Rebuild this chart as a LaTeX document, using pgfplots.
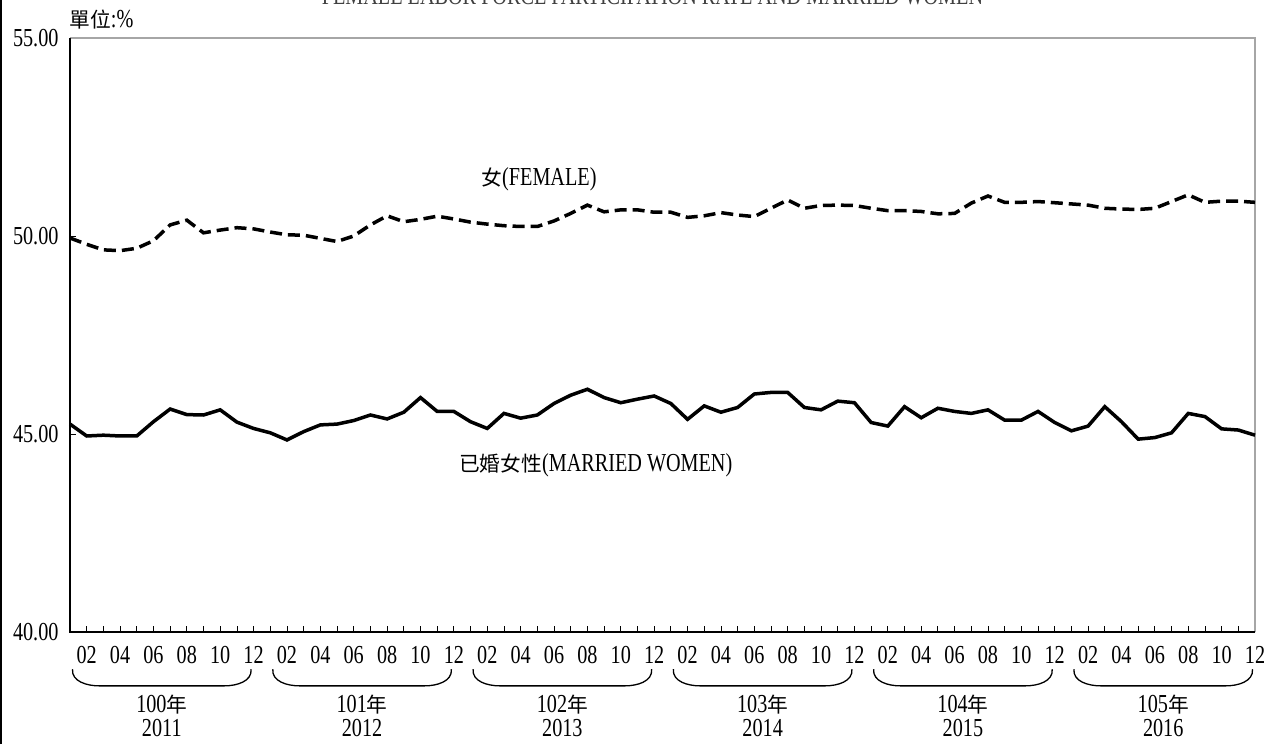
\documentclass[border=0pt]{standalone}
\usepackage{pgfplots}
\pgfplotsset{compat=1.18}
\usepackage{fontspec}
\setmainfont[FakeStretch=0.78]{Liberation Serif}
\newfontfamily\cjk[Scale=0.8]{Noto Sans CJK TC}
\newcommand\fs{\fontsize{26}{30}\selectfont}

\pgfplotstableread{
m female married
0 49.95 45.25
1 49.79 44.95
2 49.65 44.97
3 49.63 44.95
4 49.69 44.95
5 49.88 45.31
6 50.28 45.63
7 50.40 45.49
8 50.08 45.48
9 50.15 45.61
10 50.21 45.30
11 50.18 45.14
12 50.10 45.03
13 50.03 44.85
14 50.02 45.06
15 49.94 45.23
16 49.86 45.25
17 50.00 45.34
18 50.28 45.48
19 50.51 45.38
20 50.36 45.55
21 50.42 45.92
22 50.50 45.57
23 50.43 45.57
24 50.35 45.31
25 50.30 45.14
26 50.26 45.52
27 50.24 45.40
28 50.24 45.48
29 50.38 45.77
30 50.57 45.98
31 50.78 46.13
32 50.61 45.92
33 50.66 45.79
34 50.66 45.88
35 50.60 45.96
36 50.60 45.77
37 50.47 45.37
38 50.51 45.71
39 50.59 45.55
40 50.53 45.67
41 50.49 46.01
42 50.70 46.05
43 50.91 46.05
44 50.70 45.67
45 50.77 45.61
46 50.78 45.83
47 50.77 45.79
48 50.70 45.29
49 50.64 45.20
50 50.64 45.69
51 50.62 45.41
52 50.56 45.65
53 50.57 45.57
54 50.83 45.52
55 51.01 45.61
56 50.85 45.35
57 50.85 45.35
58 50.87 45.57
59 50.84 45.29
60 50.81 45.08
61 50.78 45.20
62 50.70 45.69
63 50.68 45.31
64 50.67 44.87
65 50.70 44.91
66 50.87 45.03
67 51.04 45.52
68 50.85 45.44
69 50.88 45.13
70 50.88 45.10
71 50.85 44.97
}\rates

\begin{document}
\begin{tikzpicture}
\begin{axis}[
    name=ax,
    scale only axis,
    width=1185bp, height=594bp,
    xmin=0, xmax=71,
    ymin=40, ymax=55,
    ytick={40,45,50,55},
    yticklabel={\pgfmathprintnumber[fixed,fixed zerofill,precision=2]{\tick}},
    /pgf/number format/assume math mode=true,
    xtick={1,3,...,71},
    xticklabels={02,04,06,08,10,12,02,04,06,08,10,12,02,04,06,08,10,12,
                 02,04,06,08,10,12,02,04,06,08,10,12,02,04,06,08,10,12},
    minor xtick={0,...,71},
    tick align=inside,
    xtick pos=bottom, ytick pos=left,
    major tick length=6bp, minor tick length=6bp,
    tick style={black, line width=0.8bp},
    axis line style={draw=none},
    tick label style={font=\fs},
    xticklabel style={yshift=-11bp},
    yticklabel style={xshift=-8bp},
    clip=false,
]
\draw[gray!70, line width=2bp] (rel axis cs:0,1) -- (rel axis cs:1,1) -- (rel axis cs:1,0);
\draw[black, line width=1.2bp] (rel axis cs:0,1) -- (rel axis cs:0,0) -- (rel axis cs:1,0);

\addplot[black, line width=3.5bp, dash pattern=on 12bp off 6bp] table[x=m, y=female] {\rates};
\addplot[black, line width=3.5bp] table[x=m, y=married] {\rates};

\node[font=\fs] at (axis cs:28.1,51.42) {{\cjk 女}(FEMALE)};
\node[font=\fs] at (axis cs:31.5,44.22) {{\cjk 已婚女性}(MARRIED WOMEN)};

\pgfplotsinvokeforeach{0,...,5}{
  \draw[black, line width=1.3bp]
    (axis cs:{12*#1+0.15},39.06) to[out=-95,in=180] (axis cs:{12*#1+1.75},38.64)
    -- (axis cs:{12*#1+9.25},38.64) to[out=0,in=-85] (axis cs:{12*#1+10.85},39.06);
  \node[font=\fs, anchor=base, inner sep=0pt] at (axis cs:{12*#1+5.5},37.97) {\pgfmathtruncatemacro\roc{100+#1}\roc{\cjk 年}};
  \node[font=\fs, anchor=base, inner sep=0pt] at (axis cs:{12*#1+5.5},37.37) {\pgfmathtruncatemacro\yr{2011+#1}\yr};
}
\end{axis}
\node[font=\fs, anchor=west] at ([xshift=-4bp,yshift=18bp]ax.north west) {{\cjk 單位}:\%};
\node[font=\fs, anchor=base, text=black!75] at ([xshift=-10bp,yshift=33bp]ax.north) {FEMALE LABOR FORCE PARTICIPATION RATE AND MARRIED WOMEN};
\pgfresetboundingbox
\path[use as bounding box] ([xshift=-70bp,yshift=-112bp]ax.south west) rectangle ([xshift=24bp,yshift=38bp]ax.north east);
\draw[black, line width=1.5bp] ([xshift=-69.2bp,yshift=-112bp]ax.south west) -- ([xshift=-69.2bp,yshift=38bp]ax.north west);
\end{tikzpicture}
\end{document}
